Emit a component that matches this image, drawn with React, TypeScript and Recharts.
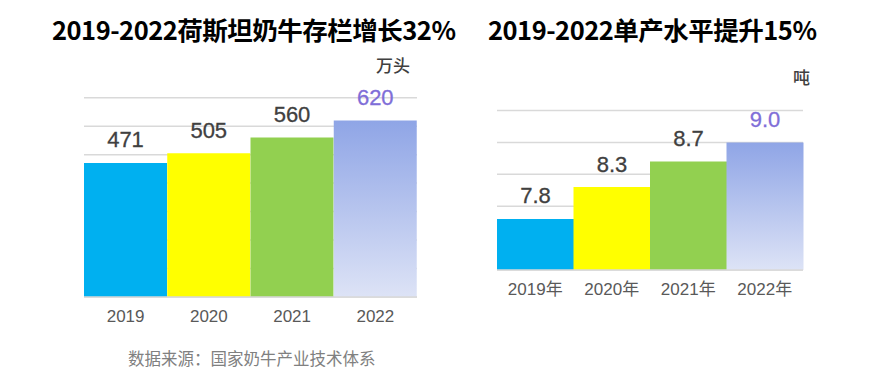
import React from 'react';
import { BarChart, Bar, XAxis, YAxis, CartesianGrid, Cell, LabelList } from 'recharts';

// Holstein herd size (10k head)
const herdYears = ['2019', '2020', '2021', '2022'];
const herdValues = [471, 505, 560, 620];
const herdTicks = [0, 100, 200, 300, 400, 500, 600, 700];

// Milk yield per cow (tonnes)
const yieldYears = ['2019年', '2020年', '2021年', '2022年'];
const yieldValues = [7.8, 8.3, 8.7, 9.0];
const yieldTicks = [7, 7.5, 8, 8.5, 9, 9.5];

const barFills = ['#00B0F0', '#FFFF00', '#92D050', 'url(#lastBarGrad)'];
const labelColors = ['#404040', '#404040', '#404040', '#7F6ED8'];

const herdData = herdYears.map((year, i) => ({ year, value: herdValues[i] }));
const yieldData = yieldYears.map((year, i) => ({ year, value: yieldValues[i] }));

const FONT = '"Noto Sans CJK SC", "Noto Sans", sans-serif';
const NUM_FONT = '"Liberation Sans", Arial, "Noto Sans CJK SC", sans-serif';

const makeLabel = (fmt: (v: number) => string) => (props: any) => {
  const { x, y, width, value, index } = props;
  return (
    <text
      x={x + width / 2}
      y={y - 23}
      textAnchor="middle"
      dominantBaseline="central"
      fontSize={22}
      fontFamily={NUM_FONT}
      fill={labelColors[index]}
      stroke={labelColors[index]}
      strokeWidth={0.3}
    >
      {fmt(value)}
    </text>
  );
};

const makeTick = (offset: number) => (props: any) => {
  const { x, y, payload } = props;
  return (
    <text
      x={x}
      y={y + offset}
      textAnchor="middle"
      dominantBaseline="central"
      fontSize={17}
      fontFamily={NUM_FONT}
      fill="#595959"
    >
      {payload.value}
    </text>
  );
};

const Gradient = () => (
  <defs>
    <linearGradient id="lastBarGrad" x1="0" y1="0" x2="0" y2="1">
      <stop offset="0%" stopColor="#8FA5E6" />
      <stop offset="100%" stopColor="#DDE3F6" />
    </linearGradient>
  </defs>
);

const titleStyle: React.CSSProperties = {
  position: 'absolute',
  top: 12,
  fontFamily: FONT,
  fontWeight: 700,
  fontSize: 25.5,
  lineHeight: '34px',
  color: '#000',
  whiteSpace: 'nowrap',
  letterSpacing: -0.5,
};

const unitStyle: React.CSSProperties = {
  position: 'absolute',
  fontFamily: FONT,
  fontSize: 17,
  fontWeight: 500,
  lineHeight: '20px',
  color: '#404040',
  whiteSpace: 'nowrap',
};

export default function App() {
  return (
    <div style={{ position: 'absolute', left: 0, top: 0, width: 869, height: 388, background: '#fff', overflow: 'hidden' }}>
      <div style={{ ...titleStyle, left: 52 }}>2019-2022荷斯坦奶牛存栏增长32%</div>
      <div style={{ ...titleStyle, left: 488 }}>2019-2022单产水平提升15%</div>

      <div style={{ ...unitStyle, left: 376, top: 55 }}>万头</div>
      <div style={{ ...unitStyle, left: 793, top: 67 }}>吨</div>

      <div style={{ position: 'absolute', left: 0, top: 0 }}>
        <BarChart
          width={440}
          height={340}
          data={herdData}
          margin={{ top: 97.7, left: 84, right: 23, bottom: 13 }}
          barCategoryGap={0}
        >
          <Gradient />
          <CartesianGrid vertical={false} stroke="#D9D9D9" strokeWidth={1.5} />
          <XAxis
            dataKey="year"
            height={30}
            axisLine={{ stroke: '#D9D9D9', strokeWidth: 1.5 }}
            tickLine={false}
            tickSize={0}
            tick={makeTick(17)}
          />
          <YAxis hide domain={[0, 700]} ticks={herdTicks} />
          <Bar dataKey="value" isAnimationActive={false}>
            {herdData.map((d, i) => (
              <Cell key={d.year} fill={barFills[i]} />
            ))}
            <LabelList dataKey="value" content={makeLabel((v) => String(v))} />
          </Bar>
        </BarChart>
      </div>

      <div style={{ position: 'absolute', left: 460, top: 0 }}>
        <BarChart
          width={409}
          height={340}
          data={yieldData}
          margin={{ top: 110.5, left: 37, right: 66, bottom: 40 }}
          barCategoryGap={0}
        >
          <Gradient />
          <CartesianGrid vertical={false} stroke="#D9D9D9" strokeWidth={1.5} />
          <XAxis
            dataKey="year"
            height={30}
            axisLine={{ stroke: '#D9D9D9', strokeWidth: 1.5 }}
            tickLine={false}
            tickSize={0}
            tick={makeTick(17)}
          />
          <YAxis hide domain={[7, 9.5]} ticks={yieldTicks} allowDataOverflow />
          <Bar dataKey="value" isAnimationActive={false}>
            {yieldData.map((d, i) => (
              <Cell key={d.year} fill={barFills[i]} />
            ))}
            <LabelList dataKey="value" content={makeLabel((v) => v.toFixed(1))} />
          </Bar>
        </BarChart>
      </div>

      <div style={{ position: 'absolute', left: 128, top: 346, fontFamily: FONT, fontSize: 16.5, lineHeight: '24px', color: '#808080', whiteSpace: 'nowrap' }}>
        数据来源：国家奶牛产业技术体系
      </div>
    </div>
  );
}
